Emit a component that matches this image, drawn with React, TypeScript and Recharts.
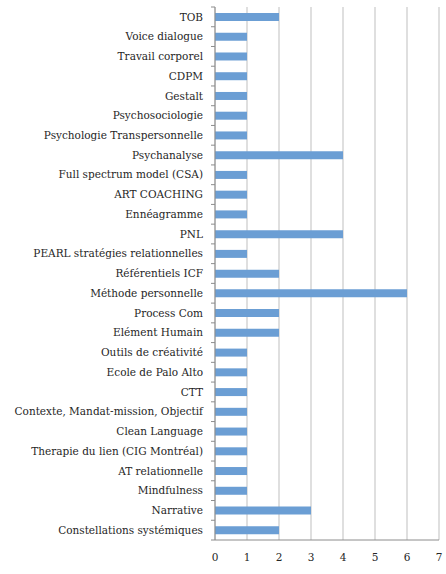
import { BarChart, Bar, XAxis, YAxis, CartesianGrid } from "recharts"

const methods = [
    "TOB",
    "Voice dialogue ",
    "Travail corporel",
    "CDPM",
    "Gestalt",
    "Psychosociologie",
    "Psychologie Transpersonnelle",
    "Psychanalyse",
    "Full spectrum model (CSA)",
    "ART COACHING ",
    "Ennéagramme",
    "PNL",
    "PEARL stratégies relationnelles",
    "Référentiels ICF",
    "Méthode personnelle",
    "Process Com",
    "Elément Humain",
    "Outils de créativité",
    "Ecole de Palo Alto",
    "CTT",
    "Contexte, Mandat-mission, Objectif",
    "Clean Language",
    "Therapie du lien (CIG Montréal)",
    "AT relationnelle",
    "Mindfulness",
    "Narrative",
    "Constellations systémiques",
]

const counts = [2, 1, 1, 1, 1, 1, 1, 4, 1, 1, 1, 4, 1, 2, 6, 2, 2, 1, 1, 1, 1, 1, 1, 1, 1, 3, 2]

const xTicks = [0, 1, 2, 3, 4, 5, 6, 7]

const data = methods.map((name, i) => ({ name, value: counts[i] }))

const FONT = "DejaVu Serif"
const PLOT_TOP = 7
const PLOT_BOTTOM = 540
const band = (PLOT_BOTTOM - PLOT_TOP) / methods.length

// label plus the little Excel-style tick mark between two categories
function CategoryTick(props: any) {
    const { x, y, payload, index } = props
    const axisX = x + 12
    return (
        <g>
            <line x1={axisX - 4} x2={axisX} y1={y - band / 2} y2={y - band / 2} stroke="#8c8c8c" />
            {index === methods.length - 1 && (
                <line x1={axisX - 4} x2={axisX} y1={y + band / 2} y2={y + band / 2} stroke="#8c8c8c" />
            )}
            <text x={x} y={y} dy="0.35em" textAnchor="end" fontSize={10.5} fontFamily={FONT} fill="#262626">
                {payload.value}
            </text>
        </g>
    )
}

export default function App() {
    return (
        <div style={{ position: "absolute", left: 0, top: 0, width: 446, height: 574, background: "#fff" }}>
            <BarChart
                width={446}
                height={574}
                data={data}
                layout="vertical"
                margin={{ top: PLOT_TOP, right: 7, bottom: 4, left: 0 }}
                barCategoryGap={0}
            >
                <CartesianGrid horizontal={false} stroke="#bfbfbf" />
                <XAxis
                    type="number"
                    domain={[0, 7]}
                    ticks={xTicks}
                    interval={0}
                    height={30}
                    tickLine={false}
                    tickSize={0}
                    tickMargin={14}
                    axisLine={{ stroke: "#8c8c8c" }}
                    tick={{ fontSize: 10.5, fontFamily: FONT, fill: "#262626" }}
                />
                <YAxis
                    type="category"
                    dataKey="name"
                    width={215}
                    interval={0}
                    tickLine={false}
                    tickSize={0}
                    tickMargin={12}
                    axisLine={{ stroke: "#8c8c8c" }}
                    tick={<CategoryTick />}
                />
                <Bar dataKey="value" fill="#6b9ed4" barSize={8} isAnimationActive={false} />
            </BarChart>
        </div>
    )
}
